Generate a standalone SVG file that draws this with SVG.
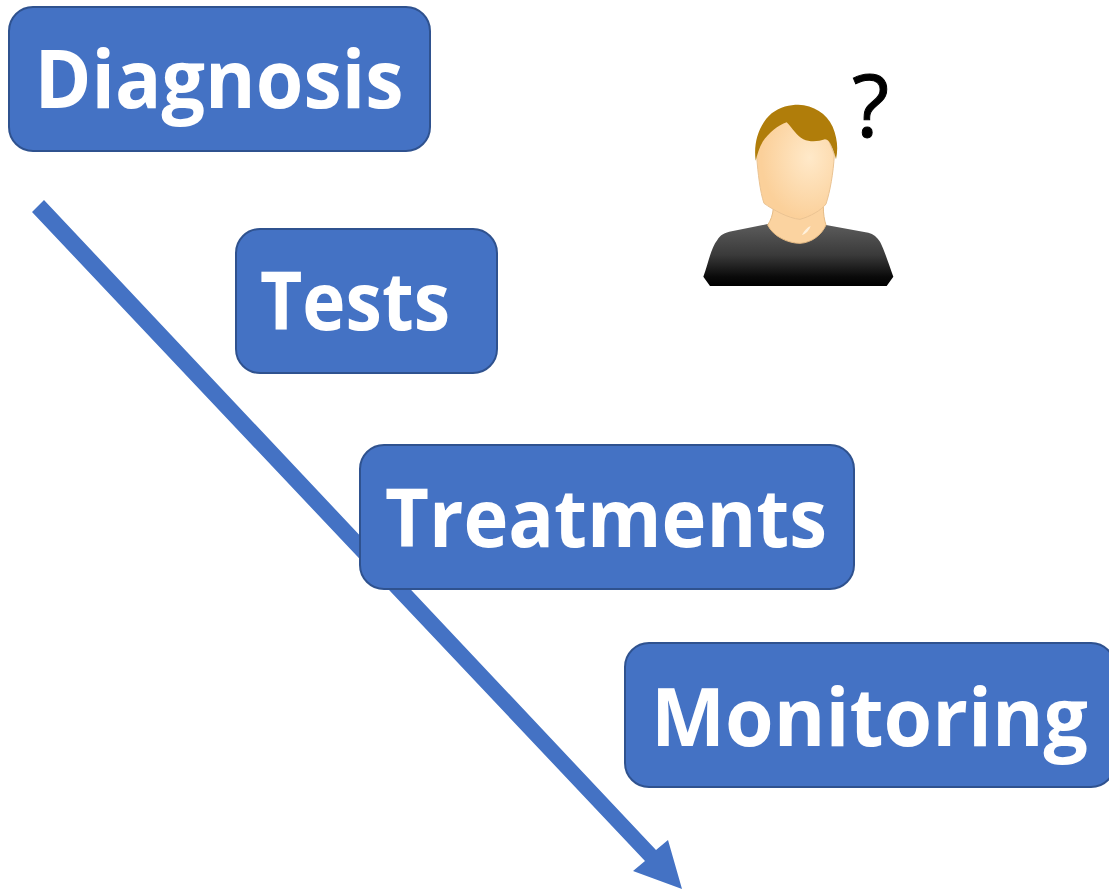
<svg xmlns="http://www.w3.org/2000/svg" width="1109" height="889" viewBox="0 0 1109 889">
<defs>
<style>
.box{fill:#4472c4;stroke:#2f528f;stroke-width:2}
.t{font-family:"Open Sans","Noto Sans",sans-serif;font-weight:700;font-size:80px;fill:#fff}
</style>
<linearGradient id="shirt" x1="0" y1="0" x2="0" y2="1"><stop offset="0" stop-color="#5c5c5c"/><stop offset="0.5" stop-color="#3a3a3a"/><stop offset="0.85" stop-color="#0a0a0a"/><stop offset="1" stop-color="#000"/></linearGradient>
<radialGradient id="face" cx="0.68" cy="0.38" r="0.62"><stop offset="0" stop-color="#ffe9c9"/><stop offset="1" stop-color="#fbd09a"/></radialGradient>
</defs>
<g id="connectors">
<path d="M44 200L656 850L668 840L682 889L633 871L645 861L32 212Z" fill="#4472c4"/>
</g>
<g id="diagnosis"><rect class="box" x="9" y="7" width="421" height="144" rx="24"/><text class="t" x="34.500" y="108" textLength="369" lengthAdjust="spacingAndGlyphs">Diagnosis</text></g>
<g id="tests"><rect class="box" x="236" y="229" width="261" height="144" rx="24"/><text class="t" x="260" y="330" textLength="190" lengthAdjust="spacingAndGlyphs">Tests</text></g>
<g id="treatments"><rect class="box" x="360" y="445" width="494" height="144" rx="24"/><text class="t" x="385" y="547" textLength="442" lengthAdjust="spacingAndGlyphs">Treatments</text></g>
<g id="monitoring"><rect class="box" x="625" y="643" width="490" height="144" rx="24"/><text class="t" x="651" y="746" textLength="437" lengthAdjust="spacingAndGlyphs">Monitoring</text></g>
<g id="person" transform="translate(690 60) scale(.33333)">
<path d="M40 650C55 610 62 565 82 540C90 525 105 518 125 514L233 492L408 495L535 518C550 522 562 532 570 545C585 575 597 615 610 650L590 678L60 678Z" fill="url(#shirt)"/>
<path d="M250 445C248 465 243 480 233 495C250 530 295 550 330 550C365 548 395 525 408 495C403 480 400 462 400 440Z" fill="#fbd3a0" stroke="#e5bb85" stroke-width="3"/>
<path d="M336 525C342 512 352 502 362 498C358 510 348 522 336 525Z" fill="#fff1dc"/>
<path d="M200 290C204 340 210 395 222 430C250 450 295 475 330 478C360 470 395 450 408 432C420 395 430 340 433 285L400 200L290 180L215 230Z" fill="url(#face)" stroke="#eac393" stroke-width="3"/>
<path d="M197 302C190 250 205 195 245 160C270 140 300 134 325 134C370 136 410 160 428 200C442 235 445 265 438 298C435 285 430 270 423 255C418 245 413 238 405 238C385 245 360 247 340 238C320 228 308 205 290 187C265 195 235 220 218 245C208 262 201 285 197 302Z" fill="#b07d0a"/>
</g>
<text id="q" x="852" y="137" font-family="'Open Sans','Noto Sans',sans-serif" font-size="86" fill="#000" stroke="#000" stroke-width="1">?</text>
</svg>
